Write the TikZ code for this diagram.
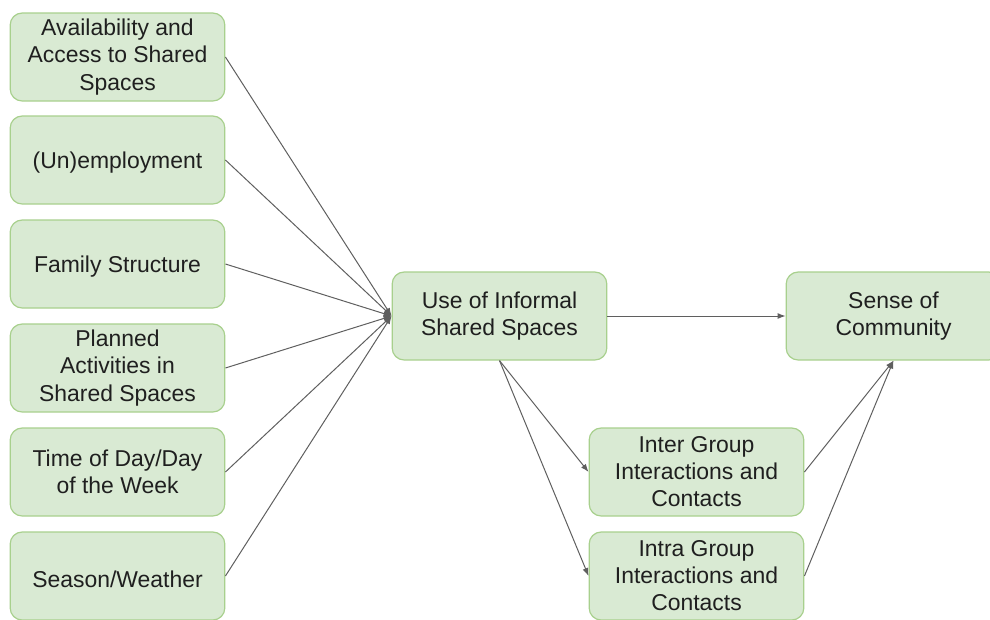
\documentclass[tikz,border=0pt]{standalone}
\usepackage{fontspec}
\setmainfont{Liberation Sans}
\usetikzlibrary{arrows.meta}
\definecolor{boxfill}{HTML}{D9EAD3}
\definecolor{boxline}{HTML}{A8D08D}
\definecolor{linegray}{HTML}{5F5F5F}
\tikzset{
    box/.style={draw=boxline, fill=boxfill, line width=0.9pt, rounded corners=9pt,
        minimum width=161pt, minimum height=66pt, align=center, text=black!88,
        font=\fontsize{17.2}{20.3}\selectfont,
        execute at begin node={\rule{0pt}{17pt}}},
    conn/.style={draw=linegray, line width=0.75pt, -{Latex[length=6pt,width=4.5pt]}}
}
\begin{document}
\begin{tikzpicture}[x=0.75pt,y=-0.75pt]
    \clip (0,0) rectangle (990,619);
    \useasboundingbox (0,0) rectangle (990,619);
    %left column
    \node[box] (avail) at (117.5,57) {Availability and\\Access to Shared\\Spaces};
    \node[box] (employ) at (117.5,160) {(Un)employment};
    \node[box] (family) at (117.5,264) {Family Structure};
    \node[box] (planned) at (117.5,368) {Planned\\Activities in\\Shared Spaces};
    \node[box] (time) at (117.5,472) {Time of Day/Day\\of the Week};
    \node[box] (season) at (117.5,576) {Season/Weather};
    %middle and right
    \node[box] (use) at (499.5,316) {Use of Informal\\Shared Spaces};
    \node[box] (sense) at (893.5,316) {Sense of\\Community};
    \node[box] (inter) at (696.5,472) {Inter Group\\Interactions and\\Contacts};
    \node[box] (intra) at (696.5,576) {Intra Group\\Interactions and\\Contacts};
    %draw lines
    \foreach \n in {avail,employ,family,planned,time,season}
        \draw[conn] (\n.east) -- (use.west);
    \draw[conn] (use.east) -- (sense.west);
    \draw[conn] (use.south) -- (inter.west);
    \draw[conn] (use.south) -- (intra.west);
    \draw[conn] (inter.east) -- (sense.south);
    \draw[conn] (intra.east) -- (sense.south);
\end{tikzpicture}
\end{document}
